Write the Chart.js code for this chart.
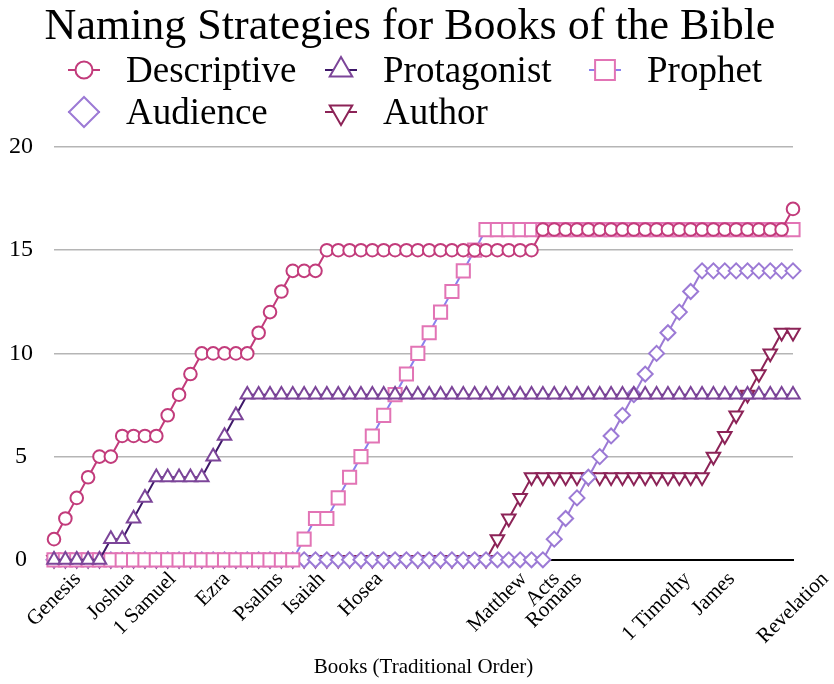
<!DOCTYPE html>
<html>
<head>
<meta charset="utf-8">
<title>Naming Strategies for Books of the Bible</title>
<script src="https://cdn.jsdelivr.net/npm/chart.js@4.4.0/dist/chart.umd.min.js"></script>
<style>
  html, body { margin: 0; padding: 0; background: #fff; }
  #wrap { width: 834px; height: 684px; }
</style>
</head>
<body>
<div id="wrap"><canvas id="bibleChart"></canvas></div>
<script>
const chartTitle = "Naming Strategies for Books of the Bible";

const books = [
  "Genesis", "Exodus", "Leviticus", "Numbers", "Deuteronomy", "Joshua", "Judges", "Ruth",
  "1 Samuel", "2 Samuel", "1 Kings", "2 Kings", "1 Chronicles", "2 Chronicles", "Ezra",
  "Nehemiah", "Esther", "Job", "Psalms", "Proverbs", "Ecclesiastes", "Song of Solomon",
  "Isaiah", "Jeremiah", "Lamentations", "Ezekiel", "Daniel", "Hosea", "Joel", "Amos",
  "Obadiah", "Jonah", "Micah", "Nahum", "Habakkuk", "Zephaniah", "Haggai", "Zechariah",
  "Malachi", "Matthew", "Mark", "Luke", "John", "Acts", "Romans", "1 Corinthians",
  "2 Corinthians", "Galatians", "Ephesians", "Philippians", "Colossians", "1 Thessalonians",
  "2 Thessalonians", "1 Timothy", "2 Timothy", "Titus", "Philemon", "Hebrews", "James",
  "1 Peter", "2 Peter", "1 John", "2 John", "3 John", "Jude", "Revelation"
];

// only these books get a label on the x axis
const shownBooks = ["Genesis", "Joshua", "1 Samuel", "Ezra", "Psalms", "Isaiah", "Hosea",
  "Matthew", "Acts", "Romans", "1 Timothy", "James", "Revelation"];

const yTicks = [0, 5, 10, 15, 20];

// cumulative counts per naming strategy
const descriptive = [1, 2, 3, 4, 5, 5, 6, 6, 6, 6, 7, 8, 9, 10, 10, 10, 10, 10, 11, 12, 13, 14, 14, 14,
  15, 15, 15, 15, 15, 15, 15, 15, 15, 15, 15, 15, 15, 15, 15, 15, 15, 15, 15,
  16, 16, 16, 16, 16, 16, 16, 16, 16, 16, 16, 16, 16, 16, 16, 16, 16, 16, 16, 16, 16, 16, 17];
const protagonist = [0, 0, 0, 0, 0, 1, 1, 2, 3, 4, 4, 4, 4, 4, 5, 6, 7,
  8, 8, 8, 8, 8, 8, 8, 8, 8, 8, 8, 8, 8, 8, 8, 8, 8, 8, 8, 8, 8, 8, 8, 8, 8, 8, 8, 8, 8,
  8, 8, 8, 8, 8, 8, 8, 8, 8, 8, 8, 8, 8, 8, 8, 8, 8, 8, 8, 8, 8];
const prophet = [0, 0, 0, 0, 0, 0, 0, 0, 0, 0, 0, 0, 0, 0, 0, 0, 0, 0, 0, 0, 0, 0,
  1, 2, 2, 3, 4, 5, 6, 7, 8, 9, 10, 11, 12, 13, 14, 15, 16,
  16, 16, 16, 16, 16, 16, 16, 16, 16, 16, 16, 16, 16, 16, 16, 16, 16, 16, 16, 16, 16, 16, 16, 16, 16, 16, 16];
const audience = [0, 0, 0, 0, 0, 0, 0, 0, 0, 0, 0, 0, 0, 0, 0, 0, 0, 0, 0, 0, 0, 0,
  0, 0, 0, 0, 0, 0, 0, 0, 0, 0, 0, 0, 0, 0, 0, 0, 0, 0, 0, 0, 0, 0,
  1, 2, 3, 4, 5, 6, 7, 8, 9, 10, 11, 12, 13, 14, 14, 14, 14, 14, 14, 14, 14, 14];
const author = [0, 0, 0, 0, 0, 0, 0, 0, 0, 0, 0, 0, 0, 0, 0, 0, 0, 0, 0, 0,
  0, 0, 0, 0, 0, 0, 0, 0, 0, 0, 0, 0, 0, 0, 0, 0, 0, 0, 0,
  1, 2, 3, 4, 4, 4, 4, 4, 4, 4, 4, 4, 4, 4, 4, 4, 4, 4, 4, 5, 6, 7, 8, 9, 10, 11, 11];

const serif = "'Liberation Serif', 'DejaVu Serif', serif";
Chart.defaults.font.family = serif;
Chart.defaults.color = "#000";

function series(label, data, lineColor, markColor, style, radius, rotation) {
  return {
    label, data,
    borderColor: lineColor,
    backgroundColor: markColor,
    pointBorderColor: markColor,
    pointBackgroundColor: "#fff",
    pointStyle: style,
    pointRotation: rotation || 0,
    pointRadius: radius,
    pointHoverRadius: radius,
    pointBorderWidth: 2,
    borderWidth: 2,
    tension: 0,
    clip: false
  };
}

// legend marker sizes, bigger than the plot markers
const legendRadius = { circle: 8.5, triangle: 13, rect: 14, rectRot: 15 };
const legendCols = [84, 341, 605];

// title, a 3 column grid legend, and centred rotated book labels
const bibleDecor = {
  id: "bibleDecor",
  afterDraw(chart) {
    const ctx = chart.ctx;
    ctx.save();
    ctx.fillStyle = "#000";
    ctx.font = "44px " + serif;
    ctx.textAlign = "center";
    ctx.textBaseline = "alphabetic";
    ctx.fillText(chartTitle, 410, 39);

    chart.data.datasets.forEach((ds, i) => {
      const cx = legendCols[i % 3];
      const cy = 70 + Math.floor(i / 3) * 42;
      ctx.strokeStyle = ds.borderColor;
      ctx.lineWidth = 2;
      ctx.beginPath();
      ctx.moveTo(cx - 16, cy);
      ctx.lineTo(cx + 16, cy);
      ctx.stroke();
      ctx.fillStyle = "#fff";
      ctx.strokeStyle = ds.pointBorderColor;
      Chart.helpers.drawPoint(ctx, {
        pointStyle: ds.pointStyle,
        rotation: ds.pointRotation,
        radius: legendRadius[ds.pointStyle],
        borderWidth: 2
      }, cx, cy);
      ctx.fillStyle = "#000";
      ctx.font = "37px " + serif;
      ctx.textAlign = "left";
      ctx.textBaseline = "middle";
      ctx.fillText(ds.label, cx + 42, cy + 2);
    });

    const xs = chart.scales.x;
    ctx.font = "21px " + serif;
    ctx.fillStyle = "#000";
    ctx.textAlign = "center";
    ctx.textBaseline = "middle";
    books.forEach((name, i) => {
      if (!shownBooks.includes(name)) return;
      const w = ctx.measureText(name).width;
      const x = xs.getPixelForValue(i);
      const y = xs.top + 9 + (w + 20) * Math.SQRT1_2 / 2;
      ctx.save();
      ctx.translate(x, y);
      ctx.rotate(-Math.PI / 4);
      ctx.fillText(name, 0, 0);
      ctx.restore();
    });
    ctx.restore();
  }
};

new Chart(document.getElementById("bibleChart"), {
  type: "line",
  data: {
    labels: books,
    datasets: [
      series("Descriptive", descriptive, "#c23b7b", "#c23b7b", "circle", 6.3),
      series("Protagonist", protagonist, "#3e1869", "#7c4599", "triangle", 7.8),
      series("Prophet", prophet, "#8a80ee", "#e274b5", "rect", 9.3),
      series("Audience", audience, "#9c7ad5", "#9c7ad5", "rectRot", 7.5),
      series("Author", author, "#8c2357", "#8c2357", "triangle", 7.8, 180)
    ]
  },
  options: {
    responsive: true,
    maintainAspectRatio: false,
    animation: false,
    layout: { padding: { left: 0, right: 41, top: 147, bottom: 0 } },
    plugins: {
      legend: { display: false },
      tooltip: { enabled: false },
      title: { display: false }
    },
    scales: {
      x: {
        grid: { display: false, drawTicks: false },
        border: { display: true, color: "#000", width: 2 },
        ticks: { display: false },
        title: {
          display: true,
          text: "Books (Traditional Order)",
          font: { size: 21 },
          color: "#000",
          padding: { top: 95, bottom: 4 }
        }
      },
      y: {
        min: 0,
        max: 20,
        afterBuildTicks(scale) {
          scale.ticks = yTicks.map(v => ({ value: v }));
        },
        afterFit(scale) { scale.width = 54; },
        grid: { color: "#b5b5b5", lineWidth: 1.5, drawTicks: false },
        border: { display: false },
        ticks: { font: { size: 24 }, color: "#000", padding: 21, crossAlign: "center" }
      }
    }
  },
  plugins: [bibleDecor]
});
</script>
</body>
</html>
